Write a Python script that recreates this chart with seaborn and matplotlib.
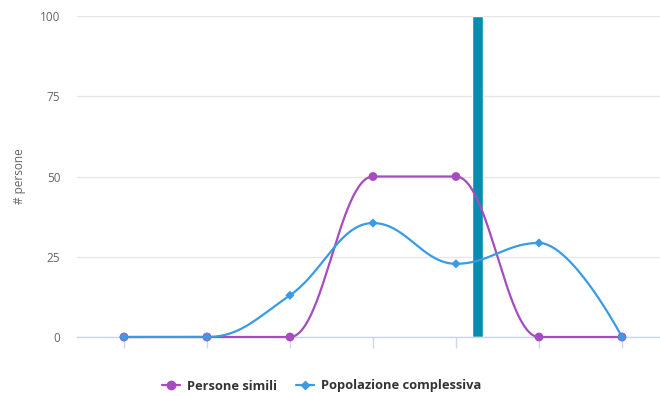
import numpy as np
import pandas as pd
import matplotlib
matplotlib.use("Agg")
import matplotlib.pyplot as plt
from matplotlib.lines import Line2D
import seaborn as sns

# --- dati ---
categorie = [0, 1, 2, 3, 4, 5, 6]
persone_simili = [0, 0, 0, 50, 50, 0, 0]
popolazione = [0, 0, 13, 35.5, 22.8, 29.3, 0]
posizione_utente = 4.26   # colonna verticale (in unita' di categoria)
altezza_utente = 100

VIOLA = "#a64bc0"
BLU = "#3a9be4"
TEAL = "#0a8bb0"


def spline_highcharts(xs, ys, n=60):
    """curva tipo 'spline' di Highcharts (bezier cubiche)"""
    xs = np.asarray(xs, float)
    ys = np.asarray(ys, float)
    k = len(xs)
    lc = np.column_stack([xs, ys]).copy()
    rc = np.column_stack([xs, ys]).copy()
    s, d = 1.5, 2.5
    for i in range(1, k - 1):
        px, py = xs[i], ys[i]
        lx, ly = xs[i - 1], ys[i - 1]
        nx, ny = xs[i + 1], ys[i + 1]
        lcx, lcy = (s * px + lx) / d, (s * py + ly) / d
        rcx, rcy = (s * px + nx) / d, (s * py + ny) / d
        corr = (rcy - lcy) * (rcx - px) / (rcx - lcx) + py - rcy
        lcy += corr
        rcy += corr
        if lcy > ly and lcy > py:
            lcy = max(ly, py); rcy = 2 * py - lcy
        elif lcy < ly and lcy < py:
            lcy = min(ly, py); rcy = 2 * py - lcy
        if rcy > ny and rcy > py:
            rcy = max(ny, py); lcy = 2 * py - rcy
        elif rcy < ny and rcy < py:
            rcy = min(ny, py); lcy = 2 * py - rcy
        lc[i] = (lcx, lcy)
        rc[i] = (rcx, rcy)
    t = np.linspace(0, 1, n)[:, None]
    parti = []
    for i in range(1, k):
        p0 = np.array([xs[i - 1], ys[i - 1]])
        p1, p2 = rc[i - 1], lc[i]
        p3 = np.array([xs[i], ys[i]])
        b = ((1 - t) ** 3) * p0 + 3 * ((1 - t) ** 2) * t * p1 + 3 * (1 - t) * t ** 2 * p2 + t ** 3 * p3
        parti.append(b)
    c = np.vstack(parti)
    return c[:, 0], c[:, 1]


sns.set_style("white")
plt.rcParams["font.family"] = ["Open Sans", "DejaVu Sans"]

fig = plt.figure(figsize=(6.6, 3.96), dpi=100)
ax = fig.add_axes([77 / 660, 1 - 337 / 396, 1 - 77 / 660, 321 / 396])

# colonna verticale
ax.bar([posizione_utente], [altezza_utente], width=0.135, color=TEAL, zorder=2)

df = pd.DataFrame({"x": categorie, "simili": persone_simili, "pop": popolazione})

for col, colore in [("simili", VIOLA), ("pop", BLU)]:
    cx, cy = spline_highcharts(df["x"], df[col])
    ax.plot(cx, cy, color=colore, lw=1.6, zorder=3, clip_on=False)

sns.scatterplot(data=df, x="x", y="simili", color=VIOLA, marker="o", s=40,
                edgecolor="none", ax=ax, zorder=4, clip_on=False)
sns.scatterplot(data=df, x="x", y="pop", color=BLU, marker="D", s=22,
                edgecolor="none", ax=ax, zorder=5, clip_on=False)

ax.set_xlim(-0.566, 6.458)
ax.set_ylim(0, 100)
ax.set_yticks([0, 25, 50, 75, 100])
ax.set_xticks(categorie)
ax.set_xticklabels([""] * len(categorie))
ax.grid(axis="y", color="#e6e6e6", lw=1)
ax.set_axisbelow(True)
for lato in ["top", "right", "left"]:
    ax.spines[lato].set_visible(False)
ax.spines["bottom"].set_color("#ccd6eb")
ax.spines["bottom"].set_linewidth(1)
ax.tick_params(axis="x", length=8, width=1, color="#ccd6eb", direction="out",
               bottom=True)
ax.tick_params(axis="y", length=0, pad=12, labelsize=8.5, labelcolor="#666666")
ax.set_xlabel("")
ax.set_ylabel("# persone", fontsize=8.5, color="#666666", labelpad=10)

maniglie = [
    Line2D([0], [0], color=VIOLA, lw=1.6, marker="o", markersize=6),
    Line2D([0], [0], color=BLU, lw=1.6, marker="D", markersize=4.5),
]
fig.legend(maniglie, ["Persone simili", "Popolazione complessiva"], loc="center",
           bbox_to_anchor=(0.487, 1 - 386 / 396), ncol=2, frameon=False,
           handlelength=1.4, columnspacing=1.5, handletextpad=0.5,
           prop={"weight": "bold", "size": 9.3})
for t in fig.legends[0].get_texts():
    t.set_color("#333333")

fig.savefig("out.png", dpi=100)
